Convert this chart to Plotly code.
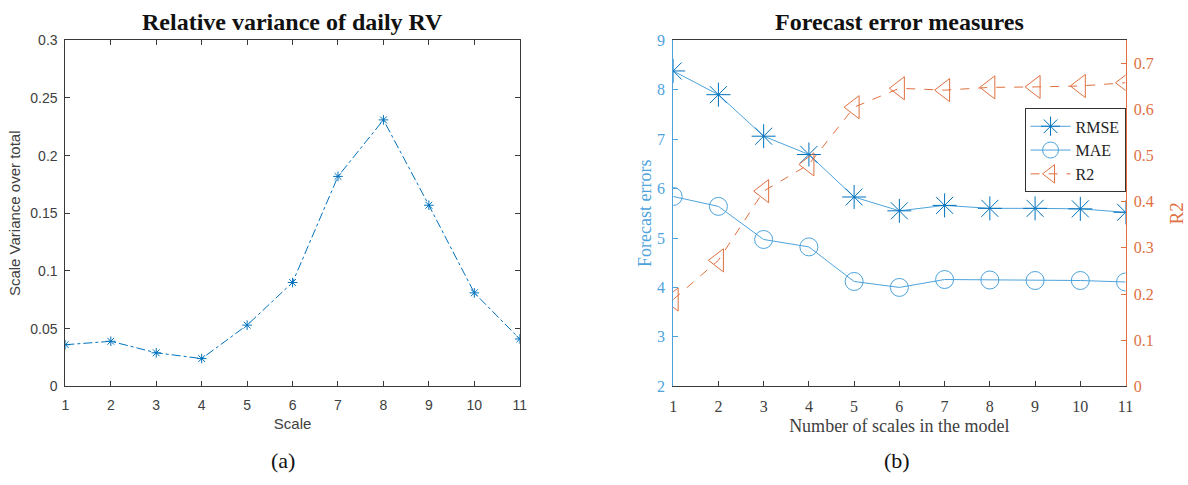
import plotly.graph_objects as go

scales = list(range(1, 12))
rel_var = [0.036, 0.039, 0.029, 0.024, 0.053, 0.090, 0.182, 0.231, 0.157, 0.081, 0.041]

n_scales = list(range(1, 12))
rmse = [8.38, 7.90, 7.06, 6.69, 5.83, 5.55, 5.66, 5.60, 5.60, 5.59, 5.52]
mae = [5.84, 5.64, 4.97, 4.82, 4.12, 4.00, 4.16, 4.15, 4.14, 4.14, 4.11]
r2 = [0.188, 0.273, 0.423, 0.481, 0.605, 0.646, 0.642, 0.648, 0.649, 0.651, 0.658]

x_ticks = list(range(1, 12))
y1_ticks = [0, 0.05, 0.1, 0.15, 0.2, 0.25, 0.3]
y1_labels = ["0", "0.05", "0.1", "0.15", "0.2", "0.25", "0.3"]
y2_ticks = [2, 3, 4, 5, 6, 7, 8, 9]
y3_ticks = [0, 0.1, 0.2, 0.3, 0.4, 0.5, 0.6, 0.7]
y3_labels = ["0", "0.1", "0.2", "0.3", "0.4", "0.5", "0.6", "0.7"]

BLUE = "#0072BD"
LBLUE = "#4DA3DC"
ORANGE = "#E0703F"
AXC = "#3a3a3a"
SANS = "Liberation Sans, Arial, sans-serif"
SERIF = "Liberation Serif, Times New Roman, serif"

fig = go.Figure()

fig.add_trace(go.Scatter(
    x=scales, y=rel_var, mode="lines+markers", xaxis="x", yaxis="y",
    line=dict(color=BLUE, width=1, dash="dashdot"),
    marker=dict(symbol="asterisk-open", size=8, color=BLUE, line=dict(color=BLUE, width=1)),
    showlegend=False, name="Relative variance"))

fig.add_trace(go.Scatter(
    x=n_scales, y=rmse, mode="lines+markers", xaxis="x2", yaxis="y2", name="RMSE",
    line=dict(color=LBLUE, width=1),
    marker=dict(symbol="asterisk-open", size=20, color=BLUE, line=dict(color=BLUE, width=1))))
fig.add_trace(go.Scatter(
    x=n_scales, y=mae, mode="lines+markers", xaxis="x2", yaxis="y2", name="MAE",
    line=dict(color=LBLUE, width=1),
    marker=dict(symbol="circle-open", size=18, color=LBLUE, line=dict(color=LBLUE, width=1))))
fig.add_trace(go.Scatter(
    x=n_scales, y=r2, mode="lines+markers", xaxis="x2", yaxis="y3", name="R2",
    line=dict(color=ORANGE, width=1, dash="dash"),
    marker=dict(symbol="triangle-left-open", size=20, color=ORANGE, line=dict(color=ORANGE, width=1))))

H = 485.0
W = 1188.0
ybot = 1 - 392 / H
ytop = 1 - 33.5 / H

fig.update_layout(
    width=1188, height=485, margin=dict(l=0, r=0, t=0, b=0),
    paper_bgcolor="white", plot_bgcolor="white",
    showlegend=True,
    legend=dict(x=1133 / W, y=1 - 104 / H, xanchor="right", yanchor="top",
                bgcolor="white", bordercolor="#333", borderwidth=1,
                font=dict(family=SERIF, size=16, color="#222"),
                tracegroupgap=0, itemwidth=40),
    xaxis=dict(domain=[62 / W, 521 / W], anchor="y", range=[1, 11],
               tickvals=x_ticks, ticks="inside", ticklen=5, tickcolor=AXC,
               showline=True, linecolor=AXC, linewidth=1, mirror="ticks",
               showgrid=False, zeroline=False, ticklabelstandoff=6,
               tickfont=dict(family=SANS, size=14, color="#404040"),
               title=dict(text="Scale", font=dict(family=SANS, size=15, color="#404040"), standoff=6)),
    yaxis=dict(domain=[ybot, ytop], anchor="x", range=[0, 0.3],
               tickvals=y1_ticks, ticktext=y1_labels, ticks="inside", ticklen=5, tickcolor=AXC,
               showline=True, linecolor=AXC, linewidth=1, mirror="ticks",
               showgrid=False, zeroline=False, ticklabelstandoff=4,
               tickfont=dict(family=SANS, size=14, color="#404040"),
               title=dict(text="Scale Variance over total", font=dict(family=SANS, size=15, color="#404040"), standoff=6)),
    xaxis2=dict(domain=[676 / W, 1133 / W], anchor="y2", range=[1, 11],
                tickvals=x_ticks, ticks="inside", ticklen=5, tickcolor=AXC,
                showline=True, linecolor=AXC, linewidth=1, mirror=True,
                showgrid=False, zeroline=False, ticklabelstandoff=6,
                tickfont=dict(family=SERIF, size=16, color="#404040"),
                title=dict(text="Number of scales in the model", font=dict(family=SERIF, size=18, color="#404040"), standoff=4)),
    yaxis2=dict(domain=[ybot, ytop], anchor="x2", range=[2, 9],
                tickvals=y2_ticks, ticks="inside", ticklen=5, tickcolor=LBLUE,
                showline=True, linecolor=LBLUE, linewidth=1,
                showgrid=False, zeroline=False, ticklabelstandoff=4,
                tickfont=dict(family=SERIF, size=16, color=LBLUE),
                title=dict(text="Forecast errors", font=dict(family=SERIF, size=18, color=LBLUE), standoff=0)),
    yaxis3=dict(overlaying="y2", side="right", anchor="x2", range=[0, 0.75],
                tickvals=y3_ticks, ticktext=y3_labels, ticks="inside", ticklen=5, tickcolor=ORANGE,
                showline=True, linecolor=ORANGE, linewidth=1,
                showgrid=False, zeroline=False, ticklabelstandoff=4,
                tickfont=dict(family=SERIF, size=16, color=ORANGE),
                title=dict(text="R2", font=dict(family=SERIF, size=19, color=ORANGE), standoff=16)),
    annotations=[
        dict(text="<b>Relative variance of daily RV</b>", x=(62 + 521) / 2 / W, y=1 - 15 / H,
             xref="paper", yref="paper", showarrow=False, xanchor="center", yanchor="middle",
             font=dict(family=SERIF, size=24, color="#111")),
        dict(text="<b>Forecast error measures</b>", x=(676 + 1133) / 2 / W, y=1 - 15 / H,
             xref="paper", yref="paper", showarrow=False, xanchor="center", yanchor="middle",
             font=dict(family=SERIF, size=24, color="#111")),
        dict(text="(a)", x=282 / W, y=1 - 469 / H, xref="paper", yref="paper", showarrow=False,
             xanchor="center", yanchor="middle", font=dict(family=SERIF, size=22, color="#111")),
        dict(text="(b)", x=902 / W, y=1 - 469 / H, xref="paper", yref="paper", showarrow=False,
             xanchor="center", yanchor="middle", font=dict(family=SERIF, size=22, color="#111")),
    ],
)

fig.write_html("out.html")
